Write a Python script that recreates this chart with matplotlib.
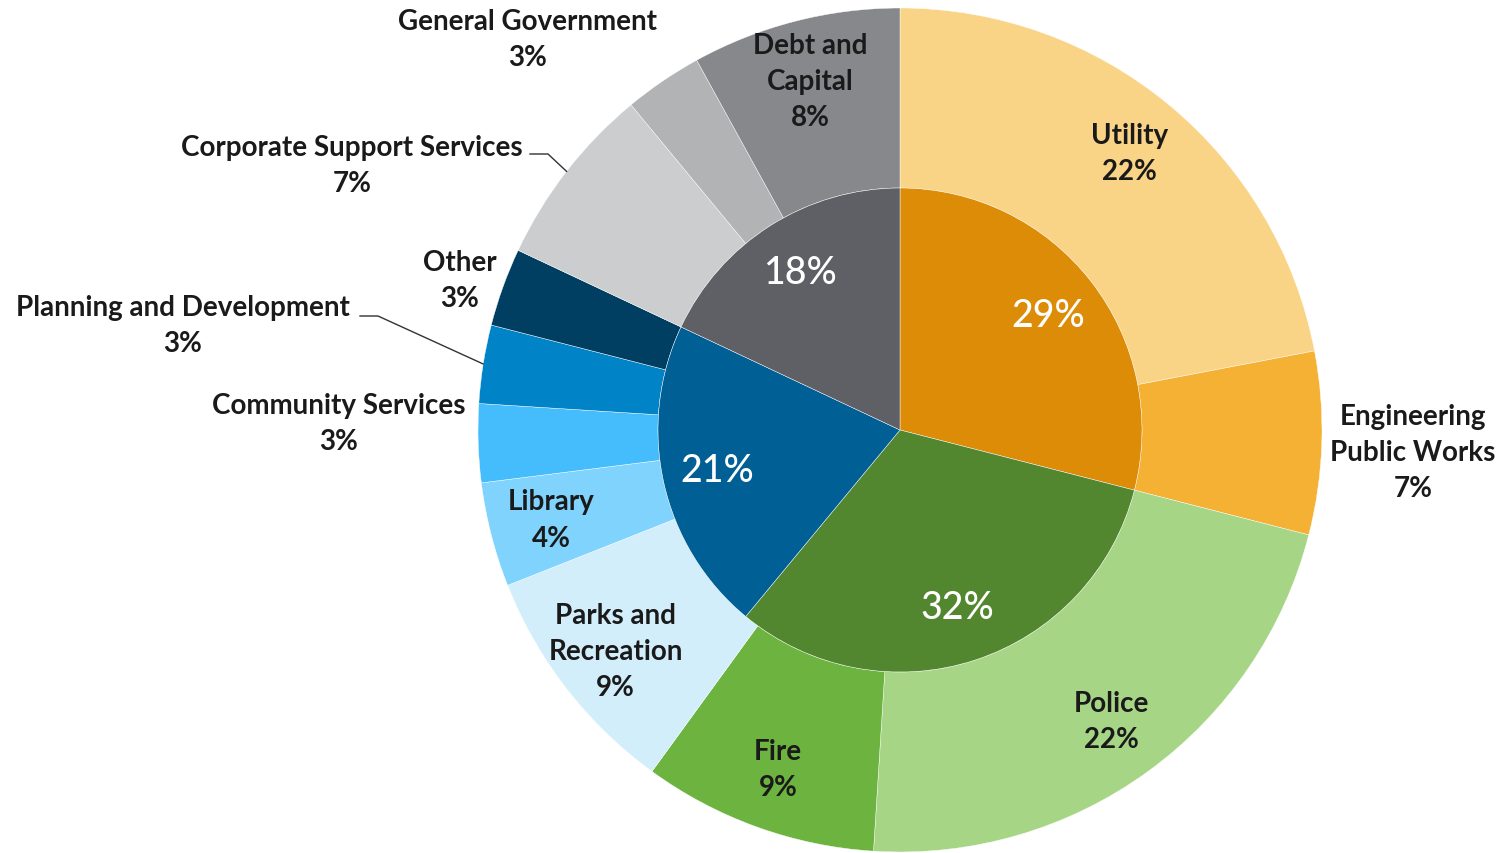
import numpy as np
import matplotlib.pyplot as plt

# Budget shares (percent)
groups = ['29%', '32%', '21%', '18%']
group_vals = [29, 32, 21, 18]
group_colors = ['#DC8C07', '#52872F', '#005F95', '#5F6065']

depts = ['Utility', 'Engineering\nPublic Works', 'Police', 'Fire',
         'Parks and\nRecreation', 'Library', 'Community Services',
         'Planning and Development', 'Other', 'Corporate Support Services',
         'General Government', 'Debt and\nCapital']
dept_vals = [22, 7, 22, 9, 9, 4, 3, 3, 3, 7, 3, 8]
dept_colors = ['#F9D386', '#F5B133', '#A7D586', '#6DB33F', '#D3EEFB', '#80D3FD',
               '#45BDFD', '#0184C7', '#013F62', '#CCCDCF', '#B2B3B5', '#87888B']

W, H = 1499, 854
cx, cy = 900, H - 431
R_out = 422
R_in = 242

# labels that sit outside the ring (pixel positions, y from top)
outside = {
    'Engineering\nPublic Works': (1413, 453),
    'Community Services': (339, 424),
    'Planning and Development': (183, 326),
    'Other': (460, 281),
    'Corporate Support Services': (352, 166),
    'General Government': (528, 40),
}
# names with a leader line: (text right edge x, y) in pixels
leaders = {
    'Planning and Development': (360, 317),
    'Corporate Support Services': (530, 155),
}

plt.rcParams['font.family'] = ['Lato', 'DejaVu Sans']

fig = plt.figure(figsize=(W / 100, H / 100), dpi=100)
ax = fig.add_axes([0, 0, 1, 1])

ax.pie(dept_vals, colors=dept_colors, radius=R_out, center=(cx, cy),
       startangle=90, counterclock=False,
       wedgeprops=dict(width=R_out - R_in, edgecolor='white', linewidth=0.3))
ax.pie(group_vals, colors=group_colors, radius=R_in, center=(cx, cy),
       startangle=90, counterclock=False,
       wedgeprops=dict(edgecolor='white', linewidth=0.3))


def polar(frac, r):
    ang = np.deg2rad(90 - 360 * frac / 100)
    return cx + r * np.cos(ang), cy + r * np.sin(ang)


# outer labels
cum = 0
for name, v in zip(depts, dept_vals):
    mid = cum + v / 2
    cum += v
    txt = f'{name}\n{v}%'
    if name in outside:
        x, yp = outside[name]
        y = H - yp
    else:
        x, y = polar(mid, 360)
    ax.text(x, y, txt, ha='center', va='center', fontsize=20,
            fontweight='bold', color='#1a1a1a', linespacing=1.48)
    if name in leaders:
        lx, lyp = leaders[name]
        ex, ey = polar(mid, R_out)
        ax.plot([lx, lx + 18, ex], [H - lyp, H - lyp, ey],
                color='#333333', lw=1.0)

# inner labels
cum = 0
for lab, v in zip(groups, group_vals):
    x, y = polar(cum + v / 2, 187)
    cum += v
    ax.text(x, y, lab, ha='center', va='center', fontsize=27,
            fontweight='medium', color='white')

ax.set_xlim(0, W)
ax.set_ylim(0, H)
ax.set_aspect('equal')
ax.axis('off')

fig.savefig('out.png', dpi=100, facecolor='white')
